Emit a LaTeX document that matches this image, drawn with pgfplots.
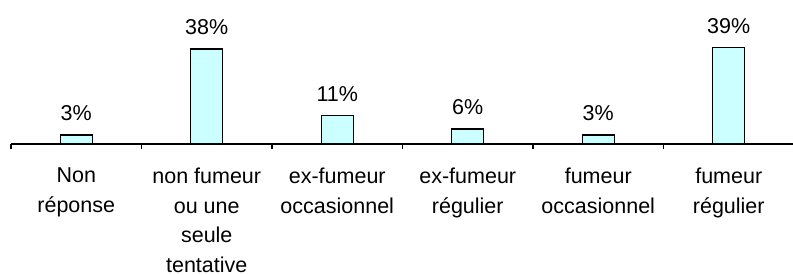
\documentclass[border=0pt]{standalone}
\usepackage{pgfplots}
\pgfplotsset{compat=1.18}
\usepackage{fontspec}
\setmainfont{Liberation Sans}
\definecolor{barfill}{HTML}{CCFFFF}
\begin{document}
\begin{tikzpicture}[x=1pt,y=1pt]
\path[use as bounding box] (0,0) rectangle (793,274);
\begin{axis}[
  at={(11pt,130pt)}, anchor=origin,
  scale only axis, width=783pt, height=100pt,
  xmin=0, xmax=6, ymin=0, ymax=40,
  axis x line=bottom, axis y line=none,
  axis line style={-, line width=1.3pt},
  xtick={0.5,1.5,2.5,3.5,4.5,5.5},
  xticklabels={{Non\\réponse},{non fumeur\\ou une\\seule\\tentative},{ex-fumeur\\occasionnel},{ex-fumeur\\régulier},{fumeur\\occasionnel},{fumeur\\régulier}},
  xticklabel style={align=center, font=\fontsize{21.5}{29.5}\selectfont, anchor=north, yshift=-20.5pt},
  major tick length=0pt,
  minor xtick={0,1,2,3,4,5,6},
  minor tick length=5pt,
  tick align=outside,
  minor tick style={line width=1.3pt, black},
  ybar, bar width=32pt,
  point meta=explicit symbolic,
  nodes near coords,
  every node near coord/.append style={font=\fontsize{21.5}{25}\selectfont, anchor=south, yshift=10pt},
  clip=false,
]
\addplot[draw=black, line width=1.3pt, fill=barfill] coordinates {
  (0.5,3.6) [3\%]
  (1.5,38) [38\%]
  (2.5,11.5) [11\%]
  (3.5,6) [6\%]
  (4.5,3.6) [3\%]
  (5.5,38.7) [39\%]
};
\end{axis}
\end{tikzpicture}
\end{document}
